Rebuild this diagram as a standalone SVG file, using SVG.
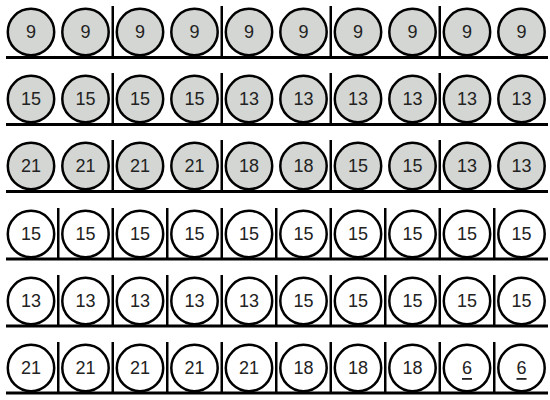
<svg xmlns="http://www.w3.org/2000/svg" width="550" height="400" viewBox="0 0 550 400">
<style>
.g use{fill:#d3d6d3;stroke:#000;stroke-width:2.5}
.w use{fill:#fff;stroke:#000;stroke-width:2.5}
text{font-family:"Liberation Sans",Arial,sans-serif;font-size:18px;fill:#222;stroke:none;text-anchor:middle;dominant-baseline:central}
.ln line{stroke:#000;stroke-width:2.5}
.ln line.base{stroke-width:3}
</style>
<defs>
<circle id="c" r="23.2"/>
</defs>
<g id="connectors" class="ln">
<line class="base" x1="6" y1="57.5" x2="548" y2="57.5"/>
<line class="base" x1="6" y1="124.5" x2="548" y2="124.5"/>
<line class="base" x1="6" y1="191.5" x2="548" y2="191.5"/>
<line class="base" x1="6" y1="259" x2="548" y2="259"/>
<line class="base" x1="6" y1="326" x2="548" y2="326"/>
<line class="base" x1="6" y1="393" x2="548" y2="393"/>
<g id="div1"><line x1="112.75" y1="6" x2="112.75" y2="57"/><line x1="221.75" y1="6" x2="221.75" y2="57"/><line x1="330.75" y1="6" x2="330.75" y2="57"/><line x1="439.75" y1="6" x2="439.75" y2="57"/></g>
<g id="div2"><line x1="112.75" y1="73" x2="112.75" y2="124"/><line x1="221.75" y1="73" x2="221.75" y2="124"/><line x1="330.75" y1="73" x2="330.75" y2="124"/><line x1="439.75" y1="73" x2="439.75" y2="124"/></g>
<g id="div3"><line x1="112.75" y1="140" x2="112.75" y2="191"/><line x1="221.75" y1="140" x2="221.75" y2="191"/><line x1="330.75" y1="140" x2="330.75" y2="191"/><line x1="439.75" y1="140" x2="439.75" y2="191"/></g>
<g id="div4"><line x1="58.25" y1="208" x2="58.25" y2="259"/><line x1="112.75" y1="208" x2="112.75" y2="259"/><line x1="167.25" y1="208" x2="167.25" y2="259"/><line x1="221.75" y1="208" x2="221.75" y2="259"/><line x1="276.25" y1="208" x2="276.25" y2="259"/><line x1="330.75" y1="208" x2="330.75" y2="259"/><line x1="385.25" y1="208" x2="385.25" y2="259"/><line x1="439.75" y1="208" x2="439.75" y2="259"/><line x1="494.25" y1="208" x2="494.25" y2="259"/></g>
<g id="div5"><line x1="58.25" y1="275" x2="58.25" y2="326"/><line x1="112.75" y1="275" x2="112.75" y2="326"/><line x1="167.25" y1="275" x2="167.25" y2="326"/><line x1="221.75" y1="275" x2="221.75" y2="326"/><line x1="276.25" y1="275" x2="276.25" y2="326"/><line x1="330.75" y1="275" x2="330.75" y2="326"/><line x1="385.25" y1="275" x2="385.25" y2="326"/><line x1="439.75" y1="275" x2="439.75" y2="326"/><line x1="494.25" y1="275" x2="494.25" y2="326"/></g>
<g id="div6"><line x1="58.25" y1="342" x2="58.25" y2="393"/><line x1="112.75" y1="342" x2="112.75" y2="393"/><line x1="167.25" y1="342" x2="167.25" y2="393"/><line x1="221.75" y1="342" x2="221.75" y2="393"/><line x1="276.25" y1="342" x2="276.25" y2="393"/><line x1="330.75" y1="342" x2="330.75" y2="393"/><line x1="385.25" y1="342" x2="385.25" y2="393"/><line x1="439.75" y1="342" x2="439.75" y2="393"/><line x1="494.25" y1="342" x2="494.25" y2="393"/></g>
</g>
<g id="row1" class="g">
<g id="n1_1" transform="translate(31,32)"><use href="#c"/><text>9</text></g>
<g id="n1_2" transform="translate(85.5,32)"><use href="#c"/><text>9</text></g>
<g id="n1_3" transform="translate(140,32)"><use href="#c"/><text>9</text></g>
<g id="n1_4" transform="translate(194.5,32)"><use href="#c"/><text>9</text></g>
<g id="n1_5" transform="translate(249,32)"><use href="#c"/><text>9</text></g>
<g id="n1_6" transform="translate(303.5,32)"><use href="#c"/><text>9</text></g>
<g id="n1_7" transform="translate(358,32)"><use href="#c"/><text>9</text></g>
<g id="n1_8" transform="translate(412.5,32)"><use href="#c"/><text>9</text></g>
<g id="n1_9" transform="translate(467,32)"><use href="#c"/><text>9</text></g>
<g id="n1_10" transform="translate(521.5,32)"><use href="#c"/><text>9</text></g>
</g>
<g id="row2" class="g">
<g id="n2_1" transform="translate(31,99)"><use href="#c"/><text>15</text></g>
<g id="n2_2" transform="translate(85.5,99)"><use href="#c"/><text>15</text></g>
<g id="n2_3" transform="translate(140,99)"><use href="#c"/><text>15</text></g>
<g id="n2_4" transform="translate(194.5,99)"><use href="#c"/><text>15</text></g>
<g id="n2_5" transform="translate(249,99)"><use href="#c"/><text>13</text></g>
<g id="n2_6" transform="translate(303.5,99)"><use href="#c"/><text>13</text></g>
<g id="n2_7" transform="translate(358,99)"><use href="#c"/><text>13</text></g>
<g id="n2_8" transform="translate(412.5,99)"><use href="#c"/><text>13</text></g>
<g id="n2_9" transform="translate(467,99)"><use href="#c"/><text>13</text></g>
<g id="n2_10" transform="translate(521.5,99)"><use href="#c"/><text>13</text></g>
</g>
<g id="row3" class="g">
<g id="n3_1" transform="translate(31,166)"><use href="#c"/><text>21</text></g>
<g id="n3_2" transform="translate(85.5,166)"><use href="#c"/><text>21</text></g>
<g id="n3_3" transform="translate(140,166)"><use href="#c"/><text>21</text></g>
<g id="n3_4" transform="translate(194.5,166)"><use href="#c"/><text>21</text></g>
<g id="n3_5" transform="translate(249,166)"><use href="#c"/><text>18</text></g>
<g id="n3_6" transform="translate(303.5,166)"><use href="#c"/><text>18</text></g>
<g id="n3_7" transform="translate(358,166)"><use href="#c"/><text>15</text></g>
<g id="n3_8" transform="translate(412.5,166)"><use href="#c"/><text>15</text></g>
<g id="n3_9" transform="translate(467,166)"><use href="#c"/><text>13</text></g>
<g id="n3_10" transform="translate(521.5,166)"><use href="#c"/><text>13</text></g>
</g>
<g id="row4" class="w">
<g id="n4_1" transform="translate(31,234)"><use href="#c"/><text>15</text></g>
<g id="n4_2" transform="translate(85.5,234)"><use href="#c"/><text>15</text></g>
<g id="n4_3" transform="translate(140,234)"><use href="#c"/><text>15</text></g>
<g id="n4_4" transform="translate(194.5,234)"><use href="#c"/><text>15</text></g>
<g id="n4_5" transform="translate(249,234)"><use href="#c"/><text>15</text></g>
<g id="n4_6" transform="translate(303.5,234)"><use href="#c"/><text>15</text></g>
<g id="n4_7" transform="translate(358,234)"><use href="#c"/><text>15</text></g>
<g id="n4_8" transform="translate(412.5,234)"><use href="#c"/><text>15</text></g>
<g id="n4_9" transform="translate(467,234)"><use href="#c"/><text>15</text></g>
<g id="n4_10" transform="translate(521.5,234)"><use href="#c"/><text>15</text></g>
</g>
<g id="row5" class="w">
<g id="n5_1" transform="translate(31,301)"><use href="#c"/><text>13</text></g>
<g id="n5_2" transform="translate(85.5,301)"><use href="#c"/><text>13</text></g>
<g id="n5_3" transform="translate(140,301)"><use href="#c"/><text>13</text></g>
<g id="n5_4" transform="translate(194.5,301)"><use href="#c"/><text>13</text></g>
<g id="n5_5" transform="translate(249,301)"><use href="#c"/><text>13</text></g>
<g id="n5_6" transform="translate(303.5,301)"><use href="#c"/><text>15</text></g>
<g id="n5_7" transform="translate(358,301)"><use href="#c"/><text>15</text></g>
<g id="n5_8" transform="translate(412.5,301)"><use href="#c"/><text>15</text></g>
<g id="n5_9" transform="translate(467,301)"><use href="#c"/><text>15</text></g>
<g id="n5_10" transform="translate(521.5,301)"><use href="#c"/><text>15</text></g>
</g>
<g id="row6" class="w">
<g id="n6_1" transform="translate(31,368)"><use href="#c"/><text>21</text></g>
<g id="n6_2" transform="translate(85.5,368)"><use href="#c"/><text>21</text></g>
<g id="n6_3" transform="translate(140,368)"><use href="#c"/><text>21</text></g>
<g id="n6_4" transform="translate(194.5,368)"><use href="#c"/><text>21</text></g>
<g id="n6_5" transform="translate(249,368)"><use href="#c"/><text>21</text></g>
<g id="n6_6" transform="translate(303.5,368)"><use href="#c"/><text>18</text></g>
<g id="n6_7" transform="translate(358,368)"><use href="#c"/><text>18</text></g>
<g id="n6_8" transform="translate(412.5,368)"><use href="#c"/><text>18</text></g>
<g id="n6_9" transform="translate(467,368)"><use href="#c"/><text text-decoration="underline">6</text></g>
<g id="n6_10" transform="translate(521.5,368)"><use href="#c"/><text text-decoration="underline">6</text></g>
</g>
</svg>
